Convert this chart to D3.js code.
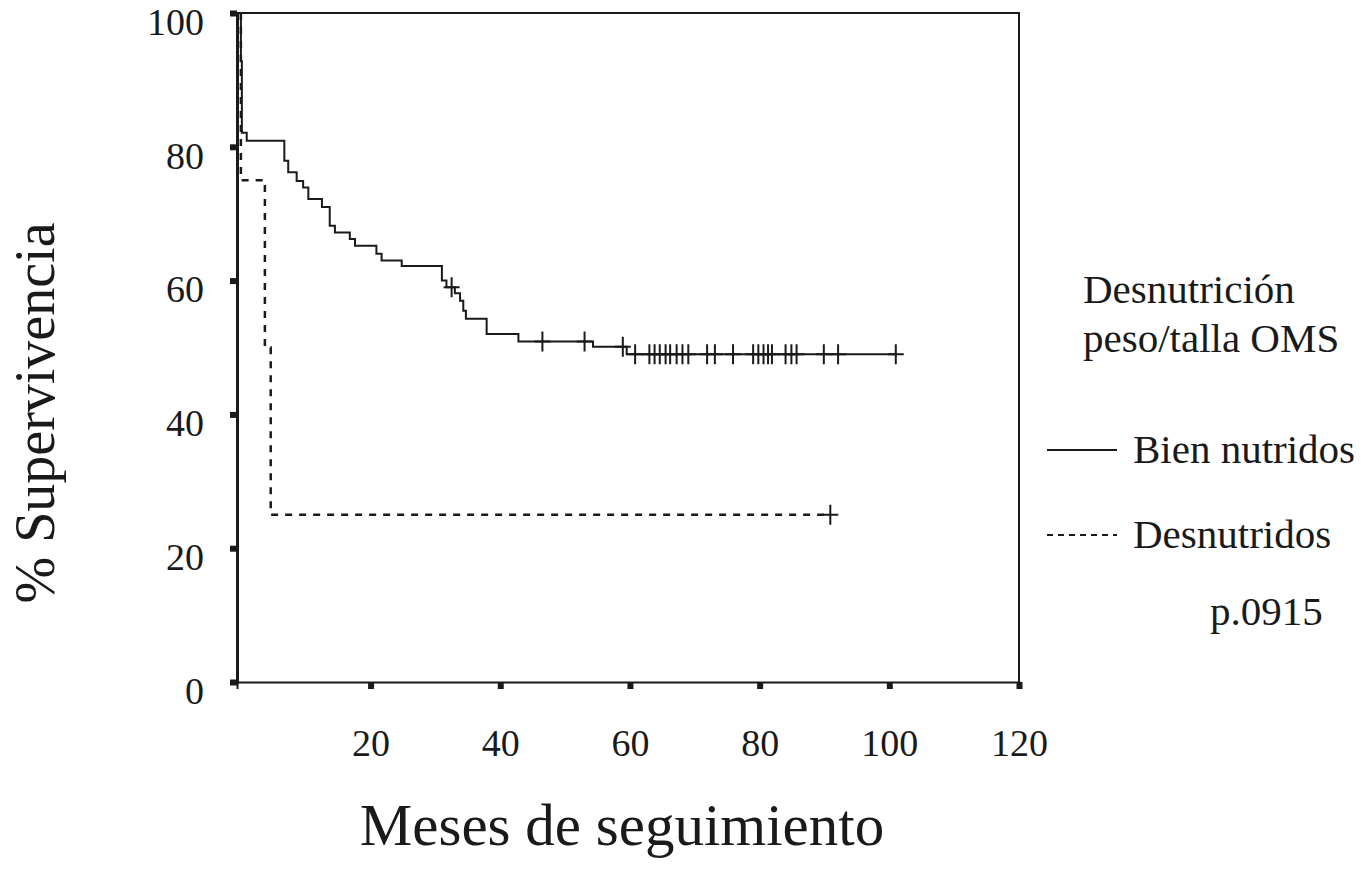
<!DOCTYPE html>
<html>
<head>
<meta charset="utf-8">
<script src="https://cdn.jsdelivr.net/npm/d3@7"></script>
<style>
  body { margin: 0; background: #fff; }
  text { font-family: "Liberation Serif", "Times New Roman", serif; fill: #1a1a1a; }
</style>
</head>
<body>
<div id="chart-area"></div>
<script>
// Bien nutridos: event times (months) and survival (%) just after each event
const bienMonths   = [0, 0.15, 0.9, 6.7, 7.3, 8.6, 9.6, 10.4, 12.5, 13.7, 14.5, 16.8, 17.6, 20.9, 21.7, 24.8, 31.0, 31.7, 33.0, 33.8, 34.3, 34.7, 37.9, 42.8, 54.3, 59.5]
const bienSurvival = [92.8, 82.1, 80.9, 77.9, 76.2, 74.9, 73.9, 72.2, 71.0, 68.2, 67.2, 66.2, 65.2, 64.0, 63.0, 62.2, 60.0, 59.0, 58.1, 57.0, 55.5, 54.3, 52.0, 50.9, 50.1, 49.0]
const bienCensored = [32.5, 46.5, 53.0, 58.9, 60.8, 63.0, 63.8, 64.6, 65.5, 66.2, 67.2, 68.1, 69.0, 71.9, 73.1, 75.9, 79.0, 79.8, 80.6, 81.3, 81.9, 84.0, 84.9, 85.7, 89.9, 92.1, 101.0]

// Desnutridos
const desMonths   = [0, 3.7, 4.6]
const desSurvival = [75, 50, 25]
const desCensored = [90.9]

const xTicks = [20, 40, 60, 80, 100, 120]
const yTicks = [0, 20, 40, 60, 80, 100]

const W = 1372, H = 870

const svg = d3.select("#chart-area")
	.append("svg")
		.attr("width", W)
		.attr("height", H)

const x = d3.scaleLinear().domain([-0.6, 120]).range([237, 1019])
const y = d3.scaleLinear().domain([0, 100]).range([682, 13])

// frame (top and right)
svg.append("path")
	.attr("d", `M${x(-0.6)},${y(100)}H${x(120)}V${y(0)}`)
	.attr("fill", "none")
	.attr("stroke", "#1a1a1a")
	.attr("stroke-width", 2)

// Axes
const xAxisCall = d3.axisBottom(x)
	.tickValues(xTicks)
	.tickSize(7)
	.tickPadding(40)
	.tickFormat(d3.format("d"))

const yAxisCall = d3.axisLeft(y)
	.tickValues(yTicks)
	.tickSize(7)
	.tickPadding(26)
	.tickFormat(d3.format("d"))

const xAxisGroup = svg.append("g")
	.attr("transform", `translate(0, ${y(0)})`)
	.call(xAxisCall)

const yAxisGroup = svg.append("g")
	.attr("transform", `translate(${x(-0.6)}, 0)`)
	.call(yAxisCall)

xAxisGroup.select(".domain").attr("stroke", "#1a1a1a").attr("stroke-width", 2)
yAxisGroup.select(".domain").attr("stroke", "#1a1a1a").attr("stroke-width", 3)
svg.selectAll(".tick line").attr("stroke", "#1a1a1a").attr("stroke-width", 6)
svg.selectAll(".tick text")
	.attr("font-size", "38px")
	.attr("font-family", "Liberation Serif, serif")
	.attr("fill", "#1a1a1a")
yAxisGroup.selectAll(".tick text").attr("dy", "0.56em")

// Step curve builder
function stepPoints(months, surv, endMonth){
	let pts = [[0, 100]]
	months.forEach((m, i) => {
		let prev = pts[pts.length - 1][1]
		pts.push([m, prev])
		pts.push([m, surv[i]])
	})
	pts.push([endMonth, surv[surv.length - 1]])
	return pts
}

function survivalAt(months, surv, t){
	let s = 100
	months.forEach((m, i) => { if (m <= t) s = surv[i] })
	return s
}

const line = d3.line()
	.x(d => x(d[0]))
	.y(d => y(d[1]))

const curves = [
	{ months: bienMonths, surv: bienSurvival, cens: bienCensored, dash: null, width: 2 },
	{ months: desMonths, surv: desSurvival, cens: desCensored, dash: "7,7", width: 2.5 }
]

curves.forEach(c => {
	svg.append("path")
		.datum(stepPoints(c.months, c.surv, d3.max(c.cens)))
		.attr("d", line)
		.attr("fill", "none")
		.attr("stroke", "#1a1a1a")
		.attr("stroke-width", c.width)
		.attr("stroke-dasharray", c.dash)

	svg.selectAll(null)
		.data(c.cens)
		.enter()
		.append("path")
		.attr("d", t => {
			let cx = x(t), cy = y(survivalAt(c.months, c.surv, t))
			return `M${cx},${cy - 10}V${cy + 10}M${cx - 8},${cy}H${cx + 8}`
		})
		.attr("stroke", "#1a1a1a")
		.attr("stroke-width", 2)
})

// Axis titles
svg.append("text")
	.attr("x", 622)
	.attr("y", 845)
	.attr("font-size", "59px")
	.attr("text-anchor", "middle")
	.text("Meses de seguimiento")

svg.append("text")
	.attr("transform", "translate(54, 413) rotate(-90)")
	.attr("font-size", "56px")
	.attr("text-anchor", "middle")
	.text("% Supervivencia")

// Legend
const legend = svg.append("g")

legend.append("text").attr("x", 1083).attr("y", 303).attr("font-size", "41px").text("Desnutrición")
legend.append("text").attr("x", 1083).attr("y", 352).attr("font-size", "41px").text("peso/talla OMS")

const legendRows = [
	{ label: "Bien nutridos", dash: null, y: 450 },
	{ label: "Desnutridos", dash: "6,5", y: 535 }
]

legendRows.forEach(r => {
	legend.append("line")
		.attr("x1", 1047).attr("x2", 1117)
		.attr("y1", r.y).attr("y2", r.y)
		.attr("stroke", "#1a1a1a")
		.attr("stroke-width", 2)
		.attr("stroke-dasharray", r.dash)
	legend.append("text")
		.attr("x", 1133)
		.attr("y", r.y + 13)
		.attr("font-size", "41px")
		.text(r.label)
})

legend.append("text").attr("x", 1210).attr("y", 625).attr("font-size", "41px").text("p.0915")
</script>
</body>
</html>
